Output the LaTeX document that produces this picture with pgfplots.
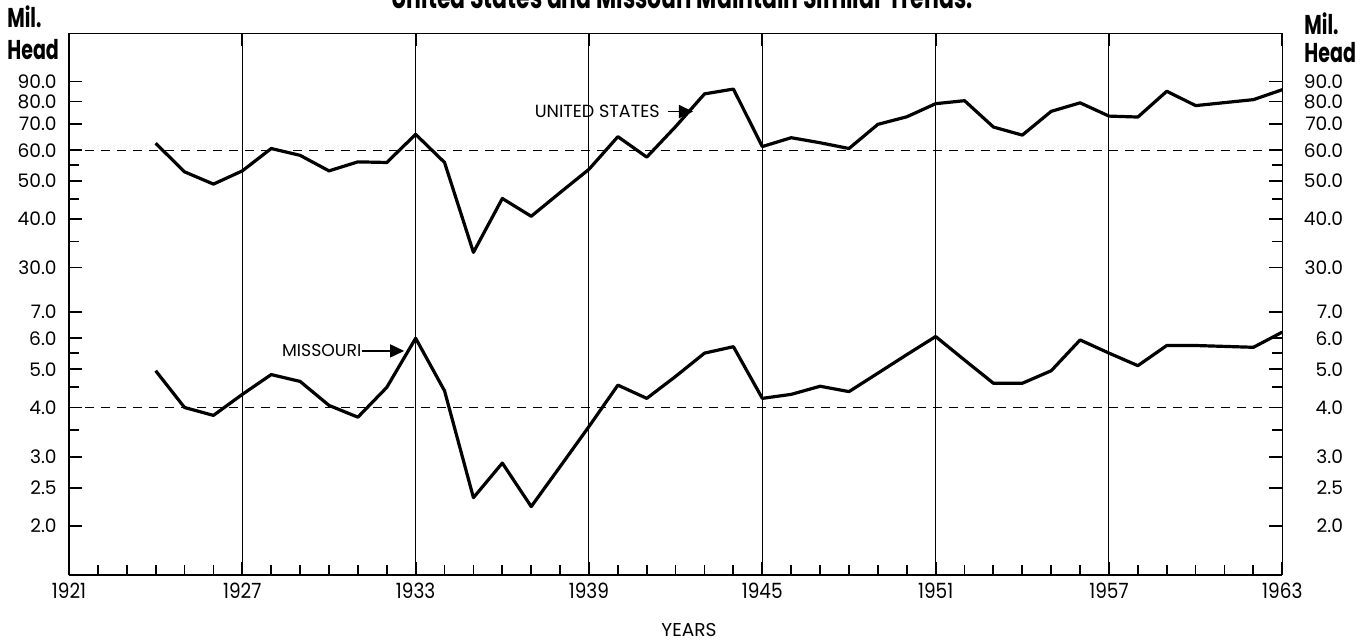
\documentclass[border=0pt]{standalone}
\usepackage{pgfplots}
\pgfplotsset{compat=1.18}
\usepackage{fontspec}
\usetikzlibrary{arrows.meta}
\setmainfont{Poppins}
\newfontfamily\narrowfont{Poppins}[FakeStretch=0.88]
\newfontfamily\headfont{Poppins}[FakeStretch=0.7]

% US and Missouri, million head
\pgfplotstableread{
year us
1924 62.5
1925 52.8
1926 49.1
1927 53.1
1928 60.6
1929 58.2
1930 53.1
1931 56.0
1932 55.8
1933 65.9
1934 55.8
1935 32.8
1936 45.1
1937 40.6
1938 46.7
1939 53.6
1940 65.0
1941 57.6
1942 69.0
1943 83.7
1944 86.1
1945 61.3
1946 64.6
1947 62.7
1948 60.6
1949 69.9
1950 73.1
1951 79.0
1952 80.4
1953 68.8
1954 65.6
1955 75.5
1956 79.4
1957 73.4
1958 73.0
1959 85.0
1960 78.1
1961 79.5
1962 80.9
1963 85.8
}\usdata

\pgfplotstableread{
year mo
1924 4.96
1925 4.00
1926 3.82
1927 4.32
1928 4.85
1929 4.66
1930 4.05
1931 3.78
1932 4.50
1933 6.00
1934 4.41
1935 2.36
1936 2.89
1937 2.24
1938 2.83
1939 3.58
1940 4.56
1941 4.22
1942 4.80
1943 5.50
1944 5.71
1945 4.22
1946 4.32
1947 4.53
1948 4.39
1949 4.89
1950 5.45
1951 6.06
1952 5.28
1953 4.61
1954 4.61
1955 4.96
1956 5.94
1957 5.50
1958 5.11
1959 5.75
1960 5.75
1961 5.72
1962 5.69
1963 6.22
}\modata

\pgfplotsset{
  chartbase/.style={
    scale only axis, width=606.65pt,
    xmin=1921, xmax=1963,
    x axis line style={-, line width=0.8pt},
    y axis line style={-, line width=0.8pt},
    tick style={line width=0.9pt, black},
    tick align=inside,
    major tick length=6.5pt, minor tick length=5pt,
    major grid style={line width=0.5pt, black},
    yticklabel style={font=\fontsize{9.3}{10}\selectfont, inner sep=0pt, anchor=east},
  },
  upperticks/.style={
    ymin=26.2, ymax=119.6, height=128.45pt,
    ytick={30,40,50,60,70,80,90},
    yticklabels={30.0,40.0,50.0,60.0,70.0,80.0,90.0},
    minor ytick={35,45,55},
  },
  lowerticks/.style={
    ymin=1.501, ymax=7.94, height=142.3pt,
    ytick={2,3,4,5,6,7},
    yticklabels={2.0,3.0,4.0,5.0,6.0,7.0},
    minor ytick={3.5,4.5,5.5},
    extra y ticks={2.5}, extra y tick labels={2.5},
  },
  refline/.style={black, line width=0.65pt, dash pattern=on 4.5pt off 3.5pt},
  dataline/.style={black, line width=1.6pt, line join=round},
}
\tikzset{pointer/.style={line width=0.8pt, -{Triangle[length=7pt, width=6.5pt]}}}

\begin{document}
\begin{tikzpicture}[x=0.5pt, y=0.5pt]
\useasboundingbox (0,0) rectangle (1368,642);
\coordinate (LL) at (69,67);
\coordinate (UL) at (69,351.6);

% lower panel: Missouri
\begin{axis}[axis x line=bottom, axis y line=left, ymode=log,
    chartbase, lowerticks, at={(LL)}, anchor=south west,
    xtick={1921,1927,...,1963},
    xticklabels={1921,1927,1933,1939,1945,1951,1957,1963},
    minor xtick={1921,1922,...,1963},
    xmajorgrids,
    xticklabel style={font=\narrowfont\fontsize{10.5}{11}\selectfont, anchor=north, inner sep=0pt, yshift=-4pt},
    yticklabel style={xshift=-6pt}]
  \addplot[refline] coordinates {(1921,4) (1963,4)};
  \addplot[dataline] table[x=year, y=mo] {\modata};
  \node[anchor=east, inner sep=0pt, font=\fontsize{8.6}{9}\selectfont] at (axis cs:1931.13,5.57) {MISSOURI};
  \draw[pointer] (axis cs:1931.13,5.57) -- (axis cs:1932.6,5.57);
\end{axis}

% upper panel: United States
\begin{axis}[axis x line=top, axis y line=left, ymode=log,
    chartbase, upperticks, at={(UL)}, anchor=south west,
    xtick={1921,1927,...,1963}, xticklabels={},
    xmajorgrids,
    yticklabel style={xshift=-6pt}]
  \addplot[refline] coordinates {(1921,60) (1963,60)};
  \addplot[dataline] table[x=year, y=us] {\usdata};
  \node[anchor=east, inner sep=0pt, font=\fontsize{8.8}{9}\selectfont] at (axis cs:1941.46,75.4) {UNITED STATES};
  \draw[pointer] (axis cs:1941.72,75.4) -- (axis cs:1942.6,75.4);
\end{axis}

% right-hand scales
\begin{axis}[hide x axis, axis y line=right, ymode=log,
    chartbase, lowerticks, at={(LL)}, anchor=south west,
    yticklabel style={xshift=30.5pt}]
\end{axis}
\begin{axis}[hide x axis, axis y line=right, ymode=log,
    chartbase, upperticks, at={(UL)}, anchor=south west,
    yticklabel style={xshift=30.5pt}]
\end{axis}

% texts
\node[anchor=base, inner sep=0pt, font=\headfont\bfseries\fontsize{15.7}{16}\selectfont] at (682,633.5) {United States and Missouri Maintain Similar Trends.};
\node[anchor=base west, inner sep=0pt, font=\headfont\bfseries\fontsize{13.6}{14}\selectfont] at (7,614) {Mil.};
\node[anchor=base west, inner sep=0pt, font=\headfont\bfseries\fontsize{13.6}{14}\selectfont] at (7,582) {Head};
\node[anchor=base west, inner sep=0pt, font=\headfont\bfseries\fontsize{13.6}{14}\selectfont] at (1304,607) {Mil.};
\node[anchor=base west, inner sep=0pt, font=\headfont\bfseries\fontsize{13.6}{14}\selectfont] at (1304,579) {Head};
\node[anchor=base, inner sep=0pt, font=\fontsize{9.3}{10}\selectfont] at (689,6) {YEARS};
\end{tikzpicture}
\end{document}
